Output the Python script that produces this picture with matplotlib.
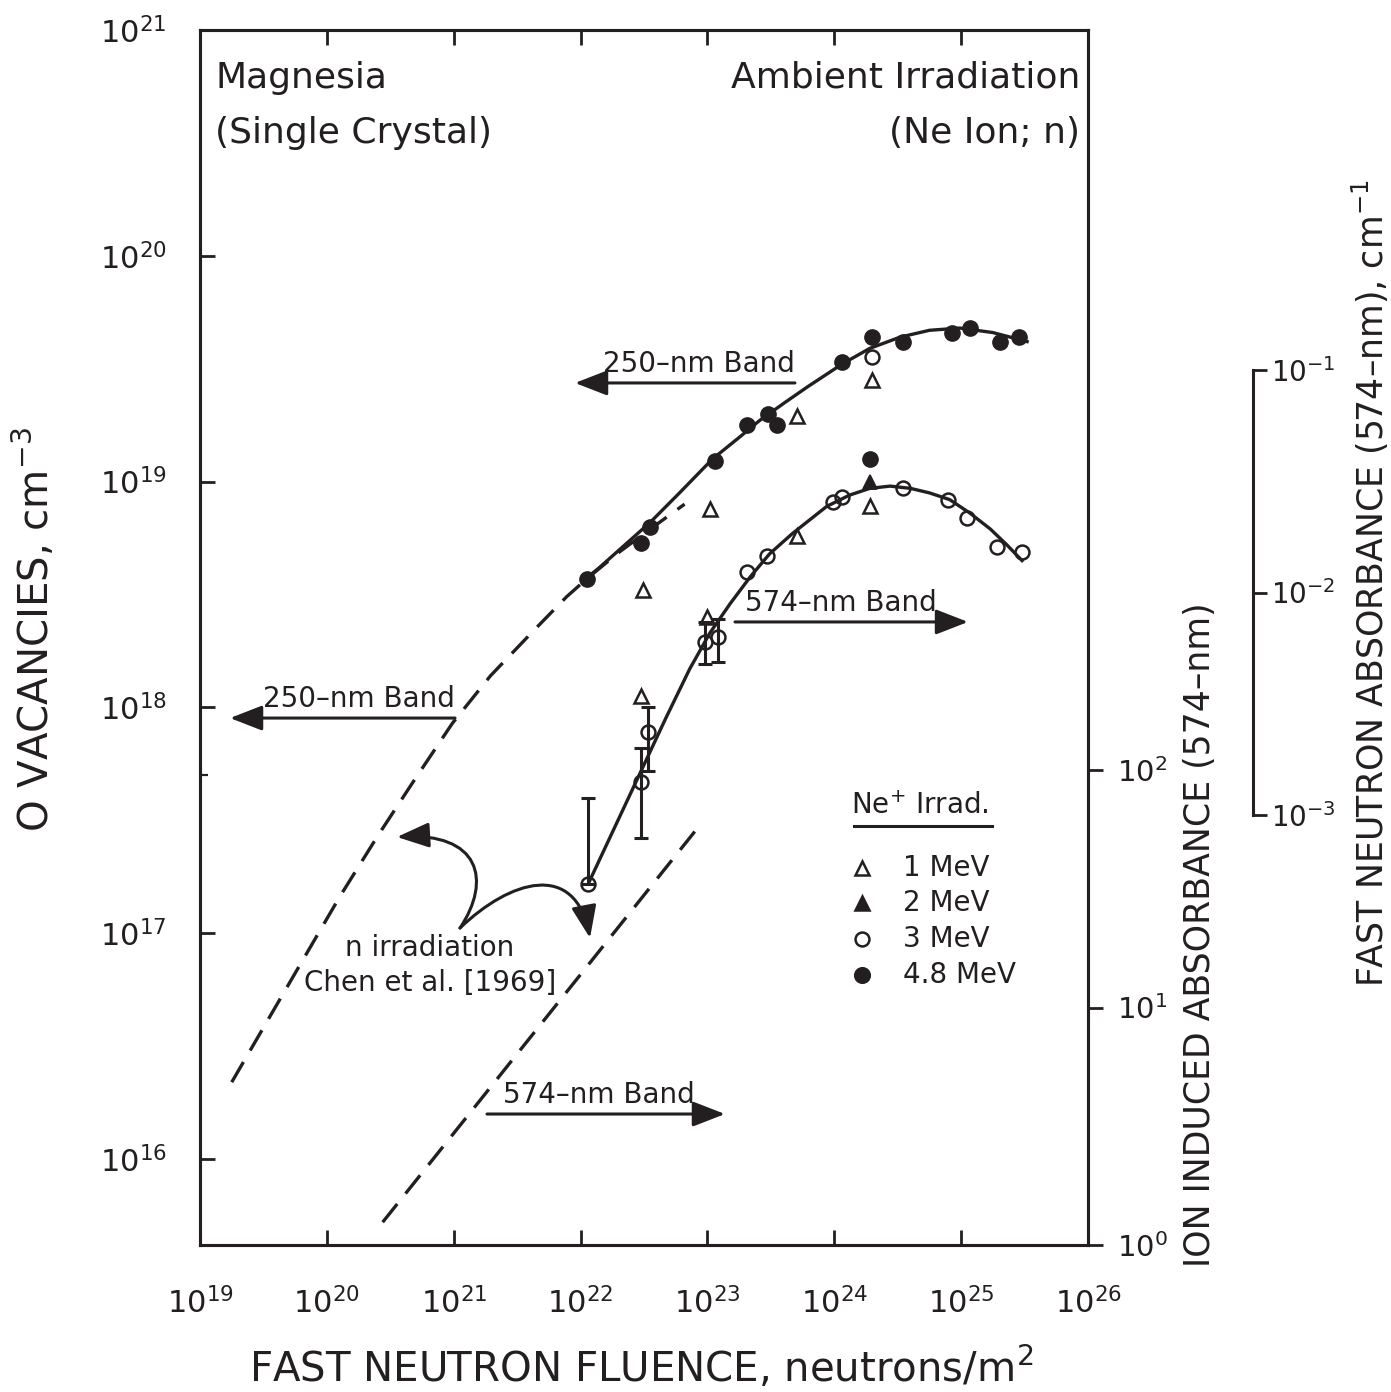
import numpy as np
import matplotlib

matplotlib.use("Agg")
import matplotlib.pyplot as plt
from matplotlib.path import Path
from matplotlib.patches import FancyArrowPatch
from matplotlib.ticker import FixedLocator, NullLocator, NullFormatter

plt.rcParams["font.family"] = ["DejaVu Sans"]
plt.rcParams["mathtext.default"] = "regular"

INK = "#231f20"

# values, stored as log10(fluence, n/m^2) and log10(vacancies, cm^-3)
mev1_logx = [24.30, 23.71, 23.02, 22.49, 22.48, 23.71, 24.28, 23.00]
mev1_logy = [19.45, 19.29, 18.88, 18.52, 18.05, 18.76, 18.89, 18.40]

mev2_logx = [24.28]
mev2_logy = [19.00]

mev3_logx = [24.30, 23.99, 24.06, 24.54, 24.90, 25.05, 25.28, 25.48,
             23.47, 23.31, 22.98, 23.08, 22.53, 22.48, 22.06]
mev3_logy = [19.55, 18.91, 18.93, 18.97, 18.92, 18.84, 18.71, 18.69,
             18.67, 18.60, 18.29, 18.31, 17.89, 17.67, 17.22]

mev48_logx = [22.05, 22.48, 22.55, 23.06, 23.31, 23.48, 23.55, 24.06,
              24.30, 24.54, 24.93, 25.07, 25.31, 25.46, 24.28]
mev48_logy = [18.57, 18.73, 18.80, 19.09, 19.25, 19.30, 19.25, 19.53,
              19.64, 19.62, 19.66, 19.68, 19.62, 19.64, 19.10]

# error bars on the 3 MeV points (574-nm band)
err_logx = [22.06, 22.48, 22.53, 22.98, 23.08]
err_logy = [17.22, 17.67, 17.89, 18.29, 18.31]
err_lo = [17.22, 17.42, 17.72, 18.19, 18.20]
err_hi = [17.60, 17.82, 18.00, 18.38, 18.39]

# hand-drawn fit curves
fit250_logx = [22.02, 22.15, 22.35, 22.55, 22.78, 23.04, 23.26, 23.41, 23.61,
               23.79, 24.06, 24.28, 24.52, 24.75, 24.99, 25.25, 25.52]
fit250_logy = [18.56, 18.62, 18.72, 18.82, 18.95, 19.10, 19.20, 19.27, 19.35,
               19.42, 19.52, 19.59, 19.64, 19.67, 19.68, 19.66, 19.62]

fit574_logx = [22.07, 22.27, 22.47, 22.67, 22.86, 23.02, 23.18, 23.34, 23.49, 23.67, 23.94,
               24.12, 24.28, 24.44, 24.60, 24.75, 24.91, 25.07, 25.23, 25.36, 25.48]
fit574_logy = [17.23, 17.47, 17.71, 17.95, 18.17, 18.33, 18.46, 18.58, 18.68, 18.77, 18.89,
               18.94, 18.97, 18.98, 18.97, 18.95, 18.92, 18.86, 18.79, 18.72, 18.65]

# n irradiation, Chen et al. [1969]
chen250_logx = [19.25, 19.55, 19.83, 20.10, 20.40, 20.68, 20.99, 21.29, 21.63, 21.89,
                22.05, 22.31, 22.55, 22.82]
chen250_logy = [16.34, 16.63, 16.90, 17.16, 17.43, 17.67, 17.93, 18.14, 18.34, 18.49,
                18.57, 18.69, 18.79, 18.90]

chen574_logx = [20.44, 22.90]
chen574_logy = [15.72, 17.45]

decade_ticks_x = [1e19, 1e20, 1e21, 1e22, 1e23, 1e24, 1e25, 1e26]
ion_ticks = [1, 10, 100]
fast_ticks = [1e-3, 1e-2, 1e-1]


def p10(v):
    return np.power(10.0, np.asarray(v, dtype=float))


W, H = 1391, 1392
fig = plt.figure(figsize=(W / 100, H / 100), dpi=100)
ax = fig.add_axes([200 / W, (H - 1245) / H, 888 / W, 1215 / H])
ax.set_xscale("log")
ax.set_yscale("log")
ax.set_xlim(1e19, 1e26)
ax.set_ylim(10 ** 15.619, 1e21)

for s in ax.spines.values():
    s.set_linewidth(2.2)
    s.set_color(INK)

ax.xaxis.set_major_locator(FixedLocator(decade_ticks_x))
ax.xaxis.set_minor_locator(NullLocator())
ax.yaxis.set_minor_locator(FixedLocator([5e17]))
ax.yaxis.set_minor_formatter(NullFormatter())
ax.tick_params(axis="both", which="major", direction="in", length=11, width=2,
               color=INK, labelcolor=INK, labelsize=22)
ax.tick_params(axis="x", top=True, pad=30)
ax.tick_params(axis="y", right=False, pad=24)
ax.tick_params(axis="y", which="minor", direction="in", length=6, width=1.6,
               color=INK, right=False)

# fit curves
lw = 2.4
ax.plot(p10(fit250_logx), p10(fit250_logy), color=INK, lw=lw, zorder=2)
ax.plot(p10(fit574_logx), p10(fit574_logy), color=INK, lw=lw, zorder=2)
ax.plot(p10(chen250_logx), p10(chen250_logy), color=INK, lw=lw,
        linestyle=(0, (7, 4)), zorder=2)
ax.plot(p10(chen574_logx), p10(chen574_logy), color=INK, lw=lw,
        linestyle=(0, (7, 4)), zorder=2)

# error bars
ey = p10(err_logy)
ax.errorbar(p10(err_logx), ey, yerr=[ey - p10(err_lo), p10(err_hi) - ey],
            fmt="none", ecolor=INK, elinewidth=2.2, capsize=5, capthick=2.2, zorder=3)

# data points
ax.plot(p10(mev1_logx), p10(mev1_logy), ls="none", marker="^", ms=10,
        mfc="none", mec=INK, mew=1.8, zorder=4)
ax.plot(p10(mev2_logx), p10(mev2_logy), ls="none", marker="^", ms=10,
        mfc=INK, mec=INK, mew=1.2, zorder=4)
ax.plot(p10(mev3_logx), p10(mev3_logy), ls="none", marker="o", ms=10,
        mfc="none", mec=INK, mew=1.8, zorder=4)
ax.plot(p10(mev48_logx), p10(mev48_logy), ls="none", marker="o", ms=11,
        mfc=INK, mec=INK, mew=1, zorder=4)

# corner labels
ax.text(0.017, 0.9605, "Magnesia", transform=ax.transAxes, fontsize=26,
        ha="left", va="center", color=INK)
ax.text(0.017, 0.915, "(Single Crystal)", transform=ax.transAxes, fontsize=26,
        ha="left", va="center", color=INK)
ax.text(0.991, 0.9605, "Ambient Irradiation", transform=ax.transAxes, fontsize=26,
        ha="right", va="center", color=INK)
ax.text(0.991, 0.915, "(Ne Ion; n)", transform=ax.transAxes, fontsize=26,
        ha="right", va="center", color=INK)

# band arrows: (label, tail x, tip x, y, text anchor x, ha)
band_arrows = [
    ("250–nm Band", 0.670, 0.4223, 0.7095, 0.670, "right"),
    ("250–nm Band", 0.2872, 0.0338, 0.4337, 0.2872, "right"),
    ("574–nm Band", 0.6025, 0.8649, 0.5128, 0.6137, "left"),
    ("574–nm Band", 0.3232, 0.5912, 0.1078, 0.3412, "left"),
]
for label, x0, x1, y, tx, ha in band_arrows:
    ax.annotate("", xy=(x1, y), xytext=(x0, y), xycoords="axes fraction",
                arrowprops=dict(arrowstyle="-|>,head_length=0.9,head_width=0.35",
                                color=INK, lw=2.2, mutation_scale=22,
                                shrinkA=0, shrinkB=0))
    ax.text(tx, y + 0.004, label, transform=ax.transAxes, fontsize=20,
            ha=ha, va="bottom", color=INK)

# n irradiation note with curved pointers
ax.text(0.259, 0.2444, "n irradiation", transform=ax.transAxes, fontsize=20,
        ha="center", va="center", color=INK)
ax.text(0.259, 0.2156, "Chen et al. [1969]", transform=ax.transAxes, fontsize=20,
        ha="center", va="center", color=INK)
curves = [
    [(0.2928, 0.2609), (0.3288, 0.3004), (0.3153, 0.3399), (0.2218, 0.3358)],
    [(0.2928, 0.2609), (0.3491, 0.3004), (0.4223, 0.3169), (0.4392, 0.2527)],
]
for pts in curves:
    path = Path(pts, [Path.MOVETO, Path.CURVE4, Path.CURVE4, Path.CURVE4])
    ax.add_patch(FancyArrowPatch(path=path, transform=ax.transAxes,
                                 arrowstyle="-|>,head_length=0.9,head_width=0.35",
                                 mutation_scale=22, color=INK, lw=2.2))

# legend
ax.text(0.811, 0.3613, "Ne$^{+}$ Irrad.", transform=ax.transAxes, fontsize=20,
        ha="center", va="center", color=INK)
ax.plot([0.736, 0.892], [0.3448, 0.3448], transform=ax.transAxes, color=INK, lw=2.2)
legend_rows = [
    ("1 MeV", "^", "none", 0.3103),
    ("2 MeV", "^", INK, 0.2815),
    ("3 MeV", "o", "none", 0.2519),
    ("4.8 MeV", "o", INK, 0.2222),
]
for label, mk, fc, y in legend_rows:
    ax.plot([0.7455], [y], transform=ax.transAxes, marker=mk, ms=10 if fc == "none" else 10.5,
            mfc=fc, mec=INK, mew=1.8, ls="none")
    ax.text(0.7917, y, label, transform=ax.transAxes, fontsize=20,
            ha="left", va="center", color=INK)

# ion induced absorbance axis on the right spine
ax2 = ax.twinx()
ax2.set_yscale("log")
ax2.set_ylim(1, 10 ** 5.116)
ax2.yaxis.set_major_locator(FixedLocator(ion_ticks))
ax2.yaxis.set_minor_locator(NullLocator())
ax2.tick_params(axis="y", direction="out", length=11, width=2, color=INK,
                labelcolor=INK, labelsize=21, pad=10)
for s in ax2.spines.values():
    s.set_linewidth(2.2)
    s.set_color(INK)

# fast neutron absorbance bracket
ax3 = fig.add_axes([1243 / W, (H - 815) / H, 10 / W, 445 / H])
ax3.set_yscale("log")
ax3.set_ylim(1e-3, 1e-1)
ax3.patch.set_visible(False)
for side in ("left", "top", "bottom"):
    ax3.spines[side].set_visible(False)
ax3.spines["right"].set_linewidth(2.2)
ax3.spines["right"].set_color(INK)
ax3.xaxis.set_visible(False)
ax3.yaxis.tick_right()
ax3.yaxis.set_major_locator(FixedLocator(fast_ticks))
ax3.yaxis.set_minor_locator(NullLocator())
ax3.tick_params(axis="y", direction="out", length=10, width=2, color=INK,
                labelcolor=INK, labelsize=20, pad=3)

# axis titles
fig.text(641 / W, 1 - 1368 / H, "FAST NEUTRON FLUENCE, neutrons/m$^{2}$",
         fontsize=29, ha="center", va="center", color=INK)
fig.text(35 / W, 1 - 630 / H, "O VACANCIES, cm$^{-3}$", fontsize=29,
         rotation=90, ha="center", va="center", color=INK)
fig.text(1200 / W, 1 - 935 / H, "ION INDUCED ABSORBANCE (574–nm)", fontsize=25,
         rotation=90, ha="center", va="center", color=INK)
fig.text(1370 / W, 1 - 583 / H, "FAST NEUTRON ABSORBANCE (574–nm), cm$^{-1}$",
         fontsize=25, rotation=90, ha="center", va="center", color=INK)

fig.savefig("out.png", dpi=100, facecolor="white")
